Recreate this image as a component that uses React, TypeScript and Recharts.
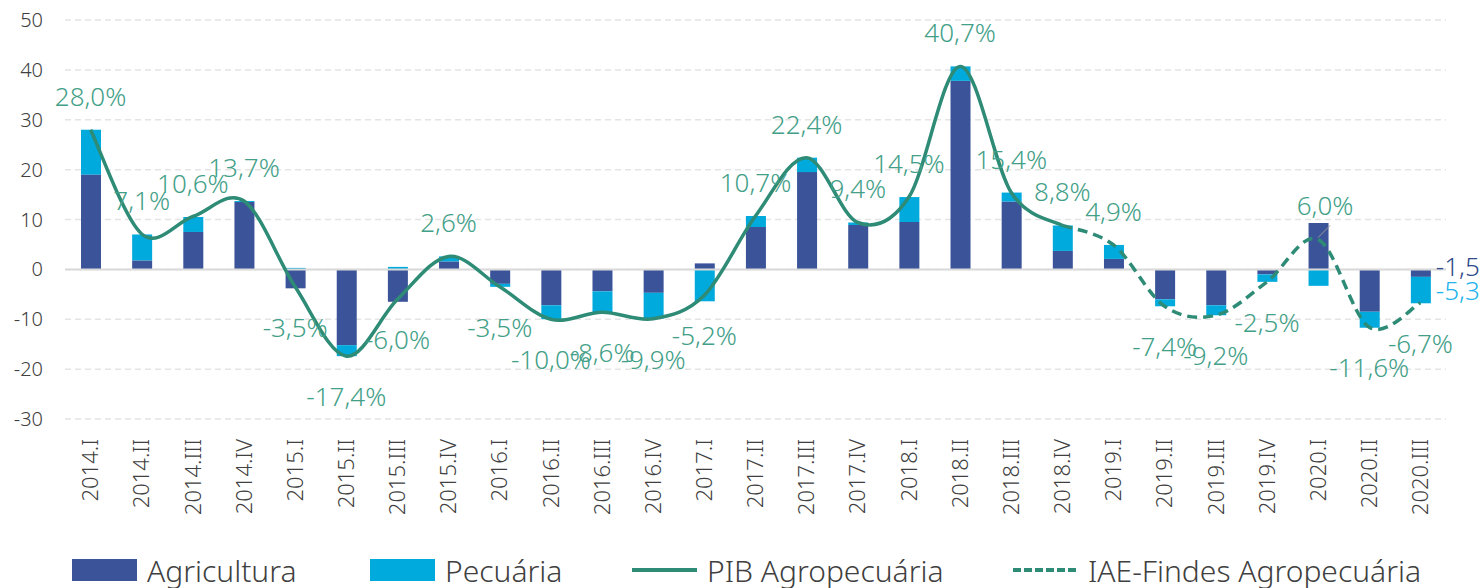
import {
  ComposedChart,
  Bar,
  Line,
  XAxis,
  YAxis,
  CartesianGrid,
  ReferenceLine,
  Legend,
  LabelList,
} from "recharts";

const quarters = [
  "2014.I", "2014.II", "2014.III", "2014.IV",
  "2015.I", "2015.II", "2015.III", "2015.IV",
  "2016.I", "2016.II", "2016.III", "2016.IV",
  "2017.I", "2017.II", "2017.III", "2017.IV",
  "2018.I", "2018.II", "2018.III", "2018.IV",
  "2019.I", "2019.II", "2019.III", "2019.IV",
  "2020.I", "2020.II", "2020.III",
];

const agricultura = [
  19.0, 1.8, 7.5, 13.5, -3.8, -15.2, -6.5, 1.6, -2.9, -7.2, -4.4, -4.7, 1.2,
  8.5, 19.5, 8.9, 9.5, 37.8, 13.6, 3.7, 2.1, -6.0, -7.2, -1.0, 9.3, -8.5, -1.5,
];

const pecuaria = [
  9.0, 5.2, 3.0, 0.2, 0.3, -2.2, 0.5, 1.0, -0.6, -2.8, -4.2, -5.2, -6.4,
  2.2, 2.9, 0.5, 5.0, 2.9, 1.8, 5.1, 2.8, -1.4, -2.0, -1.5, -3.3, -3.2, -5.3,
];

const pibAgro = [
  28.0, 7.1, 10.6, 13.7, -3.5, -17.4, -6.0, 2.6, -3.5, -10.0, -8.6, -9.9, -5.2,
  10.7, 22.4, 9.4, 14.5, 40.7, 15.4, 8.8,
  null, null, null, null, null, null, null,
];

const iaeFindes = [
  null, null, null, null, null, null, null, null, null, null, null, null, null,
  null, null, null, null, null, null,
  8.8, 4.9, -7.4, -9.2, -2.5, 6.0, -11.6, -6.7,
];

const yTicks = [-30, -20, -10, 0, 10, 20, 30, 40, 50];

const data = quarters.map((q, i) => ({
  q,
  agricultura: agricultura[i],
  pecuaria: pecuaria[i],
  pib: pibAgro[i],
  iae: iaeFindes[i],
}));

const DARK = "#3B5499";
const LIGHT = "#00AADC";
const TEAL = "#2E8B76";
const TEAL_TEXT = "#43A088";
const TEXT = "#404040";
const FONT = "'Noto Sans', 'Open Sans', sans-serif";

// excel-like smoothed line (catmull-rom)
function excelSmooth(context: any) {
  let pts: number[][] = [];
  return {
    areaStart() {},
    areaEnd() {},
    lineStart() {
      pts = [];
    },
    lineEnd() {
      if (!pts.length) return;
      context.moveTo(pts[0][0], pts[0][1]);
      for (let i = 0; i < pts.length - 1; i++) {
        const p0 = pts[i - 1] || pts[i];
        const p1 = pts[i];
        const p2 = pts[i + 1];
        const p3 = pts[i + 2] || p2;
        context.bezierCurveTo(
          p1[0] + (p2[0] - p0[0]) / 6,
          p1[1] + (p2[1] - p0[1]) / 6,
          p2[0] - (p3[0] - p1[0]) / 6,
          p2[1] - (p3[1] - p1[1]) / 6,
          p2[0],
          p2[1]
        );
      }
    },
    point(x: number, y: number) {
      pts.push([+x, +y]);
    },
  };
}

const fmt = (v: number) => v.toFixed(1).replace(".", ",");

function pctLabel(props: any, skip?: (i: number) => boolean) {
  const { x, y, value, index } = props;
  if (value == null || (skip && skip(index))) return null;
  const ty = value >= 0 ? y - 34 : y + 40;
  const lead = index === 24;
  return (
    <g>
      {lead && (
        <line x1={x} y1={y - 2} x2={x + 12} y2={y - 14} stroke="#999" strokeWidth={1} />
      )}
      <text
        x={lead ? x + 7 : x}
        y={ty}
        textAnchor="middle"
        dominantBaseline="central"
        fill={TEAL_TEXT}
        fontSize={26}
        fontWeight={300}
        fontFamily={FONT}
      >
        {fmt(value)}%
      </text>
    </g>
  );
}

function lastBarLabel(props: any, color: string, above: boolean) {
  const { x, y, width, height, value, index } = props;
  if (index !== quarters.length - 1) return null;
  const ty = above ? y - 11 : y + height / 2;
  return (
    <text
      x={x + width + 5}
      y={ty}
      dominantBaseline="central"
      fill={color}
      fontSize={26}
      fontWeight={300}
      fontFamily={FONT}
    >
      {fmt(value)}
    </text>
  );
}

function QuarterTick({ x, y, payload }: any) {
  return (
    <g transform={`translate(${x},${y})`}>
      <text
        transform="rotate(-90)"
        x={-12}
        y={0}
        dy="0.35em"
        textAnchor="end"
        fill={TEXT}
        fontSize={22}
        fontWeight={300}
        fontFamily={FONT}
      >
        {payload.value}
      </text>
    </g>
  );
}

const legendItems = [
  { name: "Agricultura", kind: "bar", color: DARK },
  { name: "Pecuária", kind: "bar", color: LIGHT },
  { name: "PIB Agropecuária", kind: "line", color: TEAL },
  { name: "IAE-Findes Agropecuária", kind: "dash", color: TEAL },
];
const legendLeft = [62, 360, 622, 1003];

function renderLegend() {
  return (
    <div style={{ position: "relative", height: 36 }}>
      {legendItems.map((item, i) => (
        <div
          key={item.name}
          style={{
            position: "absolute",
            left: legendLeft[i],
            top: 0,
            height: 36,
            display: "flex",
            alignItems: "center",
            gap: 10,
          }}
        >
          <svg width={65} height={22}>
            {item.kind === "bar" ? (
              <rect x={0} y={0} width={65} height={22} fill={item.color} />
            ) : (
              <line
                x1={0}
                y1={11}
                x2={65}
                y2={11}
                stroke={item.color}
                strokeWidth={4}
                strokeDasharray={item.kind === "dash" ? "8 3" : undefined}
              />
            )}
          </svg>
          <span
            style={{
              fontSize: 30,
              fontWeight: 300,
              color: TEXT,
              fontFamily: FONT,
              whiteSpace: "nowrap",
            }}
          >
            {item.name}
          </span>
        </div>
      ))}
    </div>
  );
}

export default function App() {
  return (
    <div
      style={{
        position: "absolute",
        left: 0,
        top: 0,
        width: 1480,
        height: 588,
        background: "#fff",
        fontFamily: FONT,
      }}
    >
      <ComposedChart
        width={1480}
        height={588}
        data={data}
        stackOffset="sign"
        margin={{ top: 20, right: 34, left: 10, bottom: 0 }}
      >
        <CartesianGrid
          vertical={false}
          stroke="#e4e4e4"
          strokeDasharray="6 4"
          strokeWidth={1.5}
        />

        <XAxis
          dataKey="q"
          interval={0}
          axisLine={false}
          tickLine={false}
          height={133}
          tick={<QuarterTick />}
        />

        <YAxis
          width={55}
          domain={[-30, 50]}
          ticks={yTicks}
          axisLine={false}
          tickLine={false}
          tickSize={0}
          tickMargin={22}
          tick={{ fontSize: 20, fill: TEXT, fontWeight: 300 }}
        />

        <ReferenceLine y={0} stroke="#d9d9d9" strokeWidth={2} />

        <Bar dataKey="agricultura" stackId="a" fill={DARK} barSize={20} isAnimationActive={false}>
          <LabelList dataKey="agricultura" content={(p: any) => lastBarLabel(p, "#2F4A8A", true)} />
        </Bar>

        <Bar dataKey="pecuaria" stackId="a" fill={LIGHT} barSize={20} isAnimationActive={false}>
          <LabelList dataKey="pecuaria" content={(p: any) => lastBarLabel(p, "#22B4EC", false)} />
        </Bar>

        <Line
          dataKey="pib"
          type={excelSmooth as any}
          stroke={TEAL}
          strokeWidth={3.5}
          dot={false}
          activeDot={false}
          isAnimationActive={false}
        >
          <LabelList dataKey="pib" content={(p: any) => pctLabel(p)} />
        </Line>

        <Line
          dataKey="iae"
          type={excelSmooth as any}
          stroke={TEAL}
          strokeWidth={3.5}
          strokeDasharray="10 6"
          dot={false}
          activeDot={false}
          isAnimationActive={false}
        >
          <LabelList
            dataKey="iae"
            content={(p: any) => pctLabel(p, (i) => pibAgro[i] != null)}
          />
        </Line>

        <Legend verticalAlign="bottom" height={36} content={renderLegend} />
      </ComposedChart>
    </div>
  );
}
